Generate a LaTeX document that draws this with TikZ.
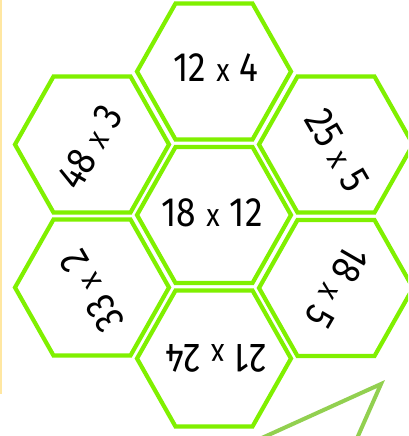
\documentclass[tikz,border=0pt]{standalone}
\usepackage{fontspec}
\setmainfont{Fira Sans}
\usepackage{graphicx}
\definecolor{hexgreen}{HTML}{80F000}
\definecolor{trigreen}{HTML}{92D050}
\definecolor{edgeyellow}{HTML}{FFE7A2}
\newcommand\hexpath[2]{(#1-77,#2) -- (#1-38.5,#2-68) -- (#1+38.5,#2-68) -- (#1+77,#2) -- (#1+38.5,#2+68) -- (#1-38.5,#2+68) -- cycle}
\newcommand\mul[2]{\scalebox{0.86}[1]{#1\hspace{12pt}{\fontsize{32}{32}\selectfont x}\hspace{12pt}#2}}
\tikzset{
  hexcell/.style={draw=hexgreen, line width=4.2pt, line join=miter},
  numtxt/.style={inner sep=0pt, font=\fontsize{41}{44}\selectfont, text=black},
  tri/.style={draw=trigreen, line width=4pt, line join=miter},
}
\begin{document}
\begin{tikzpicture}[x=1pt,y=-1pt]
\useasboundingbox (0,0) rectangle (408,436);
\clip (0,0) rectangle (408,436);
\fill[white] (0,0) rectangle (408,436);
% faint left edge line
\draw[edgeyellow, line width=2pt] (1,0) -- (1,394);
% hexagons
\draw[hexcell] \hexpath{214}{71.5};
\draw[hexcell] \hexpath{214}{215};
\draw[hexcell] \hexpath{214}{358.5};
\draw[hexcell] \hexpath{92}{144.5};
\draw[hexcell] \hexpath{92}{287.5};
\draw[hexcell] \hexpath{336}{144.5};
\draw[hexcell] \hexpath{336}{288};
% triangle
\coordinate (apex) at (381,384);
\coordinate (tl) at (200,466);
\coordinate (tr) at (343,470);
\draw[tri] (tl) -- (apex) -- (tr);
% texts
\node[numtxt] (t1) at (216,68) {\mul{12}{4}};
\node[numtxt] (t2) at (212,213) {\mul{18}{12}};
\node[numtxt, rotate=180] (t3) at (216,358) {\mul{21}{24}};
\node[numtxt, rotate=60] (t4) at (90,147) {\mul{48}{3}};
\node[numtxt, rotate=-60] (t5) at (337,150) {\mul{25}{5}};
\node[numtxt, rotate=240] (t6) at (337,287) {\mul{18}{5}};
\node[numtxt, rotate=120] (t7) at (92,291) {\mul{33}{2}};
\end{tikzpicture}
\end{document}
